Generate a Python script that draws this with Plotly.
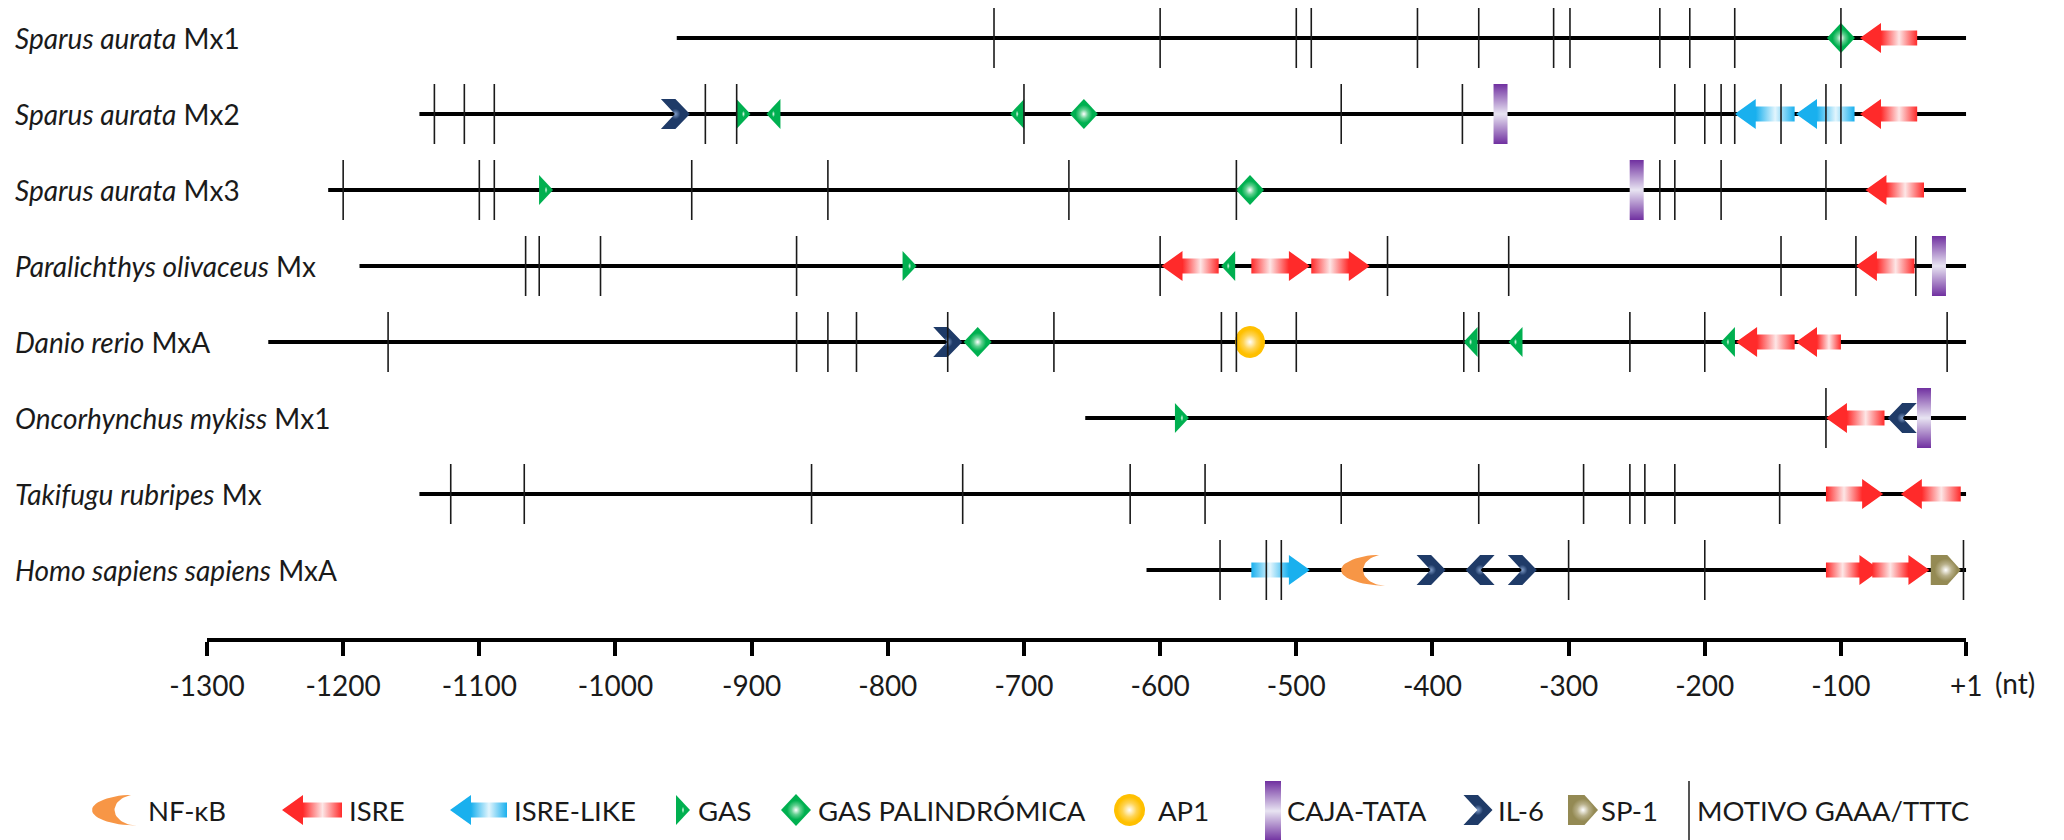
import math
import plotly.graph_objects as go

# ---------------- data ----------------
SPECIES = ["Sparus aurata", "Sparus aurata", "Sparus aurata", "Paralichthys olivaceus",
           "Danio rerio", "Oncorhynchus mykiss", "Takifugu rubripes", "Homo sapiens sapiens"]
GENES = ["Mx1", "Mx2", "Mx3", "Mx", "MxA", "Mx1", "Mx", "MxA"]
PROMOTER_START = [-955, -1144, -1211, -1188, -1255, -655, -1144, -610]
PROMOTER_END = -8  # position drawn as "+1"

GAAA_SA_MX1 = [-722, -600, -500, -489, -411, -366, -311, -299, -233, -211, -178, -100]
GAAA_SA_MX2 = [-1133, -1111, -1089, -934, -911, -700, -467, -378, -222, -200, -188, -178, -144, -111, -100]
GAAA_SA_MX3 = [-1200, -1100, -1089, -944, -844, -667, -544, -233, -222, -188, -111]
GAAA_PO_MX = [-1066, -1056, -1011, -867, -600, -433, -344, -144, -89, -45]
GAAA_DR_MXA = [-1167, -867, -844, -823, -756, -678, -555, -544, -500, -377, -366, -255, -200, -22]
GAAA_OM_MX1 = [-111]
GAAA_TR_MX = [-1121, -1067, -856, -745, -622, -567, -467, -366, -289, -255, -244, -222, -145]
GAAA_HS_MXA = [-556, -522, -511, -300, -200, -10]
GAAA = [GAAA_SA_MX1, GAAA_SA_MX2, GAAA_SA_MX3, GAAA_PO_MX,
        GAAA_DR_MXA, GAAA_OM_MX1, GAAA_TR_MX, GAAA_HS_MXA]

# (row, start, end, direction)
ISRE = [(0, -86, -44, "L"), (1, -86, -44, "L"), (2, -82, -39, "L"),
        (3, -599, -557, "L"), (3, -533, -490, "R"), (3, -489, -446, "R"), (3, -89, -46, "L"),
        (4, -177, -134, "L"), (4, -133, -100, "L"),
        (5, -111, -68, "L"),
        (6, -111, -69, "R"), (6, -56, -12, "L"),
        (7, -111, -71, "R"), (7, -77, -35, "R")]
ISRE_LIKE = [(1, -178, -134, "L"), (1, -133, -90, "L"), (7, -533, -490, "R")]
# (row, position, direction)
GAS = [(1, -906, "R"), (1, -884, "L"), (1, -705, "L"), (2, -1051, "R"),
       (3, -784, "R"), (3, -550, "L"), (4, -372, "L"), (4, -339, "L"), (4, -183, "L"),
       (5, -584, "R")]
GAS_PAL = [(0, -100), (1, -656), (2, -534), (4, -734)]
AP1 = [(4, -534)]
TATA = [(1, -350), (2, -250), (3, -28), (5, -39)]
IL6 = [(1, -956, "R"), (4, -756, "R"), (5, -55, "L"), (7, -401, "R"), (7, -365, "L"), (7, -334, "R")]
SP1 = [(7, -23)]
NFKB = [(7, -451)]

TICK_VALS = [-1300, -1200, -1100, -1000, -900, -800, -700, -600, -500, -400, -300, -200, -100, -8]
TICK_TEXT = ["-1300", "-1200", "-1100", "-1000", "-900", "-800", "-700", "-600",
             "-500", "-400", "-300", "-200", "-100", "+1"]

LEGEND_LABELS = ["NF-κB", "ISRE", "ISRE-LIKE", "GAS", "GAS PALINDRÓMICA", "AP1",
                 "CAJA-TATA", "IL-6", "SP-1", "MOTIVO GAAA/TTTC"]

# ---------------- layout constants ----------------
FIG_W, FIG_H = 2064, 840
AX_LEFT_PX, AX_RIGHT_PX = 207.0, 1966.2       # pixel extent of the position axis
K = (AX_RIGHT_PX - AX_LEFT_PX) / (TICK_VALS[-1] - TICK_VALS[0])  # px per nt
ROW_Y0, ROW_DY = 38, 76.0
AXIS_Y = 638
FONT = "Lato"
TXT = "#1a1a1a"

RED, RED_L = "#ff2a2a", "#fde6e6"
BLUE, BLUE_L = "#19b0ee", "#e2f5fd"
GREEN = "#00b050"
NAVY = "#1f3b68"
GOLD = "#ffc000"
PURPLE, PURPLE_L = "#7030a0", "#e8e4f2"
OLIVE = "#948a54"
ORANGE = "#f79646"

DATA_AX = dict(xaxis="x", yaxis="y", s=K)      # features: x in nt, y in px
LEG_AX = dict(xaxis="x2", yaxis="y2", s=1.0)   # legend glyphs: x and y in px


def row_y(r):
    return ROW_Y0 + ROW_DY * r


fig = go.Figure()


def add_poly(ax, xs, ys, fillcolor=None, gradient=None):
    kw = dict(x=xs, y=ys, mode="lines", fill="toself", line=dict(width=0, color="rgba(0,0,0,0)"),
              hoverinfo="skip", showlegend=False, xaxis=ax["xaxis"], yaxis=ax["yaxis"])
    if gradient is not None:
        kw["fillgradient"] = gradient
    else:
        kw["fillcolor"] = fillcolor
    fig.add_trace(go.Scatter(**kw))


def arrow(ax, x0, x1, yc, d, color, light, bh=7.5, hh=15, hl=21):
    h = hl / ax["s"]
    if d == "L":
        j = x0 + h
        xs = [x0, j, j, x1, x1, j, j, x0]
        body = (j, x1)
    else:
        j = x1 - h
        xs = [x1, j, j, x0, x0, j, j, x1]
        body = (x0, j)
    ys = [yc, yc - hh, yc - bh, yc - bh, yc + bh, yc + bh, yc + hh, yc]
    add_poly(ax, xs, ys, gradient=dict(type="horizontal", start=body[0], stop=body[1],
                                       colorscale=[[0, color], [0.5, light], [1, color]]))


def triangle(ax, xc, yc, d, w=14, h=30):
    a, b = xc - w / 2 / ax["s"], xc + w / 2 / ax["s"]
    xs = [a, b, a, a] if d == "R" else [b, a, b, b]
    ys = [yc - h / 2, yc, yc + h / 2, yc - h / 2]
    add_poly(ax, xs, ys, gradient=dict(type="radial",
                                       colorscale=[[0, "#e8fff0"], [0.22, GREEN], [1, GREEN]]))


def diamond(ax, xc, yc, w=28, h=30):
    hw = w / 2 / ax["s"]
    xs = [xc, xc + hw, xc, xc - hw, xc]
    ys = [yc - h / 2, yc, yc + h / 2, yc, yc - h / 2]
    add_poly(ax, xs, ys, gradient=dict(type="radial",
                                       colorscale=[[0, "#ffffff"], [0.3, "#5fd08f"], [0.6, GREEN], [1, GREEN]]))


def ellipse(ax, xc, yc, w=30, h=32):
    n = 48
    hw = w / 2 / ax["s"]
    xs = [xc + hw * math.cos(2 * math.pi * i / n) for i in range(n + 1)]
    ys = [yc + h / 2 * math.sin(2 * math.pi * i / n) for i in range(n + 1)]
    add_poly(ax, xs, ys, gradient=dict(type="radial",
                                       colorscale=[[0, "#ffffff"], [0.45, "#ffd454"], [0.8, GOLD], [1, GOLD]]))


def tata(ax, xc, yc, w=14, h=60):
    hw = w / 2 / ax["s"]
    a, b = xc - hw, xc + hw
    xs = [a, b, b, a, a]
    ys = [yc - h / 2, yc - h / 2, yc + h / 2, yc + h / 2, yc - h / 2]
    add_poly(ax, xs, ys, gradient=dict(type="vertical", start=yc - h / 2, stop=yc + h / 2,
                                       colorscale=[[0, PURPLE], [0.5, PURPLE_L], [1, PURPLE]]))


def chevron(ax, xc, yc, d, w=29, h=30):
    hw = w / 2 / ax["s"]
    a, m, b = xc - hw, xc, xc + hw
    e = w * 0.02 / ax["s"]
    if d == "R":
        xs = [a, m, b, m, a, m - e, a]
    else:
        xs = [b, m, a, m, b, m + e, b]
    ys = [yc - h / 2, yc - h / 2, yc, yc + h / 2, yc + h / 2, yc, yc - h / 2]
    add_poly(ax, xs, ys, gradient=dict(type="radial",
                                       colorscale=[[0, "#7f9cc8"], [0.35, NAVY], [1, NAVY]]))


def pentagon(ax, xc, yc, w=30, h=30):
    a = xc - w / 2 / ax["s"]
    m = a + w * 0.55 / ax["s"]
    b = xc + w / 2 / ax["s"]
    xs = [a, m, b, m, a, a]
    ys = [yc - h / 2, yc - h / 2, yc, yc + h / 2, yc + h / 2, yc - h / 2]
    add_poly(ax, xs, ys, gradient=dict(type="radial",
                                       colorscale=[[0, "#ffffff"], [0.4, "#b8b08a"], [0.75, OLIVE], [1, OLIVE]]))


def crescent(ax, xc, yc, w=44, h=31):
    ww = w / ax["s"]
    right = xc + ww / 2
    n = 30
    xs, ys = [], []
    for i in range(n + 1):
        t = -math.pi / 2 + math.pi * i / n
        xs.append(right - ww * math.cos(t))
        ys.append(yc + h / 2 * math.sin(t))
    for i in range(n + 1):
        t = math.pi / 2 - math.pi * i / n
        xs.append(right - 0.5 * ww * math.cos(t))
        ys.append(yc + h / 2 * math.sin(t))
    add_poly(ax, xs, ys, fillcolor=ORANGE)


# ---------------- promoter backbones ----------------
bx, by = [], []
for r, s in enumerate(PROMOTER_START):
    bx += [s, PROMOTER_END, None]
    by += [row_y(r), row_y(r), None]
fig.add_trace(go.Scatter(x=bx, y=by, mode="lines", line=dict(color="#000000", width=4),
                         hoverinfo="skip", showlegend=False))

# ---------------- elements ----------------
for r, s, e, d in ISRE:
    arrow(DATA_AX, s, e, row_y(r), d, RED, RED_L)
for r, s, e, d in ISRE_LIKE:
    arrow(DATA_AX, s, e, row_y(r), d, BLUE, BLUE_L)
for r, p, d in GAS:
    triangle(DATA_AX, p, row_y(r), d)
for r, p in GAS_PAL:
    diamond(DATA_AX, p, row_y(r))
for r, p in AP1:
    ellipse(DATA_AX, p, row_y(r))
for r, p in TATA:
    tata(DATA_AX, p, row_y(r))
for r, p, d in IL6:
    chevron(DATA_AX, p, row_y(r), d)
for r, p in SP1:
    pentagon(DATA_AX, p, row_y(r))
for r, p in NFKB:
    crescent(DATA_AX, p, row_y(r))

# ---------------- GAAA/TTTC motifs ----------------
gx, gy = [], []
for r, motifs in enumerate(GAAA):
    for p in motifs:
        gx += [p, p, None]
        gy += [row_y(r) - 30, row_y(r) + 30, None]
fig.add_trace(go.Scatter(x=gx, y=gy, mode="lines", line=dict(color=TXT, width=1.6),
                         hoverinfo="skip", showlegend=False))

# ---------------- row labels ----------------
for r, (sp, g) in enumerate(zip(SPECIES, GENES)):
    fig.add_annotation(x=13 / FIG_W, xref="paper", y=1 - row_y(r) / FIG_H, yref="paper",
                       xanchor="left", yanchor="middle", showarrow=False,
                       text=f"<i>{sp}</i> {g}", font=dict(family=FONT, size=28, color=TXT))

# ---------------- legend ----------------
LY = 810
crescent(LEG_AX, 114.5, LY, w=45, h=31)
arrow(LEG_AX, 282, 342, LY, "L", RED, RED_L)
arrow(LEG_AX, 450, 507, LY, "L", BLUE, BLUE_L)
triangle(LEG_AX, 683, LY, "R")
diamond(LEG_AX, 796, LY, w=30, h=32)
ellipse(LEG_AX, 1129.5, LY, w=31, h=32)
tata(LEG_AX, 1273, 811, w=16, h=60)
chevron(LEG_AX, 1478, LY, "R")
pentagon(LEG_AX, 1583, LY)
fig.add_trace(go.Scatter(x=[1689, 1689], y=[781, 842], mode="lines", xaxis="x2", yaxis="y2",
                         line=dict(color="#555555", width=2), hoverinfo="skip", showlegend=False))
LEGEND_TEXT_X = [146, 347, 512, 696, 816, 1156, 1285, 1496, 1599, 1695]
for lx, lab in zip(LEGEND_TEXT_X, LEGEND_LABELS):
    fig.add_annotation(x=lx / FIG_W, xref="paper", y=1 - LY / FIG_H, yref="paper",
                       xanchor="left", yanchor="middle", showarrow=False, text=lab,
                       font=dict(family=FONT, size=27.5, color=TXT))

fig.add_annotation(x=2015 / FIG_W, xref="paper", y=1 - 683 / FIG_H, yref="paper", showarrow=False,
                   text="(nt)", xanchor="center", yanchor="middle",
                   font=dict(family=FONT, size=28, color=TXT))

split = 1 - AXIS_Y / FIG_H
fig.update_layout(
    width=FIG_W, height=FIG_H, margin=dict(l=0, r=0, t=0, b=0, autoexpand=False),
    paper_bgcolor="white", plot_bgcolor="rgba(0,0,0,0)", showlegend=False,
    xaxis=dict(range=[TICK_VALS[0], TICK_VALS[-1]],
               domain=[AX_LEFT_PX / FIG_W, AX_RIGHT_PX / FIG_W], anchor="y", automargin=False,
               showline=True, linecolor="#000000", linewidth=4, showgrid=False, zeroline=False,
               ticks="outside", ticklen=14, tickwidth=3.5, tickcolor="#000000",
               tickvals=TICK_VALS, ticktext=TICK_TEXT, ticklabelstandoff=6,
               tickfont=dict(family=FONT, size=28, color=TXT), fixedrange=True),
    yaxis=dict(range=[AXIS_Y, 0], domain=[split, 1], visible=False, fixedrange=True,
               anchor="x", automargin=False),
    xaxis2=dict(range=[0, FIG_W], domain=[0, 1], visible=False, fixedrange=True,
                anchor="y2", automargin=False),
    yaxis2=dict(range=[FIG_H, AXIS_Y], domain=[0, split], visible=False, fixedrange=True,
                anchor="x2", automargin=False),
)

fig.write_html("out.html")
